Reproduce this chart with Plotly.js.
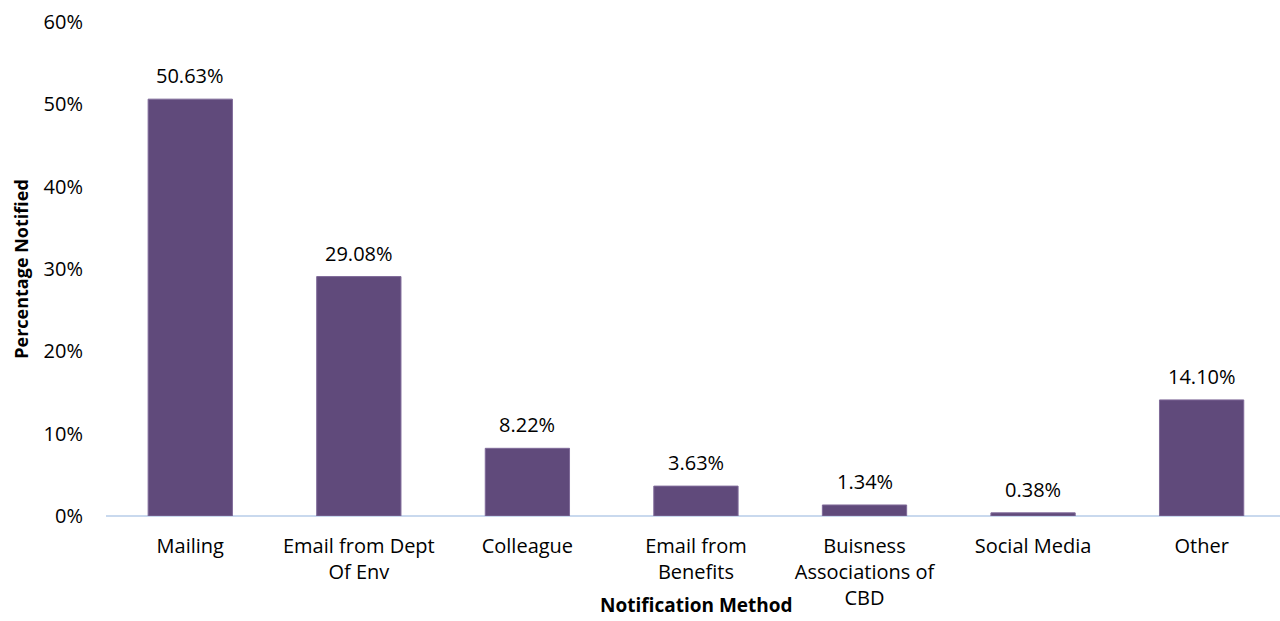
<!DOCTYPE html>
<html>
<head>
<meta charset="utf-8">
<script src="https://cdn.plot.ly/plotly-3.0.1.min.js"></script>
<style>html,body{margin:0;padding:0;background:#fff;}#chart{width:1280px;height:621px;}</style>
</head>
<body>
<div id="chart"></div>
<script>
const categories = ["Mailing", "Email from Dept<br>Of Env", "Colleague", "Email from<br>Benefits", "Buisness<br>Associations of<br>CBD", "Social Media", "Other"];
const values = [50.63, 29.08, 8.22, 3.63, 1.34, 0.38, 14.10];
const tickVals = [0, 10, 20, 30, 40, 50, 60];
const tickText = ["0%", "10%", "20%", "30%", "40%", "50%", "60%"];

const FONT = "'Open Sans', sans-serif";
const idx = categories.map((_, i) => i);

const trace = {
  type: "bar",
  x: idx,
  y: values,
  width: 0.5,
  marker: {color: "#604a7b", line: {color: "#7f6a99", width: 1}},
  hoverinfo: "skip"
};

const annotations = values.map((v, i) => ({
  x: i, y: v, xref: "x", yref: "y",
  text: v.toFixed(2) + "%",
  showarrow: false, yanchor: "bottom", yshift: 8,
  font: {family: FONT, size: 20, color: "#000"}
}));
annotations.push({
  xref: "paper", yref: "paper", x: 0.5026, y: -0.2105,
  xanchor: "center", yanchor: "bottom",
  text: "<b>Notification Method</b>", showarrow: false,
  font: {family: FONT, size: 19, color: "#000"}
});

const layout = {
  width: 1280, height: 621,
  margin: {l: 106, r: 0, t: 22, b: 105},
  paper_bgcolor: "#fff", plot_bgcolor: "#fff",
  showlegend: false,
  font: {family: FONT, size: 20, color: "#000"},
  xaxis: {
    range: [-0.5, 6.465],
    tickvals: idx, ticktext: categories,
    showgrid: false, zeroline: false,
    showline: false, ticks: "",
    ticklabelstandoff: 16,
    tickfont: {family: FONT, size: 20, color: "#000"}
  },
  yaxis: {
    range: [0, 60],
    tickvals: tickVals, ticktext: tickText,
    showgrid: false, zeroline: true, zerolinecolor: "#c9d9ee", zerolinewidth: 2,
    showline: false, ticks: "",
    ticklabelstandoff: 22,
    tickfont: {family: FONT, size: 20, color: "#000"},
    title: {text: "<b>Percentage Notified</b>", font: {family: FONT, size: 18, color: "#000"}, standoff: 10}
  },
  annotations: annotations
};

Plotly.newPlot("chart", [trace], layout, {displayModeBar: false, staticPlot: true});
</script>
</body>
</html>
